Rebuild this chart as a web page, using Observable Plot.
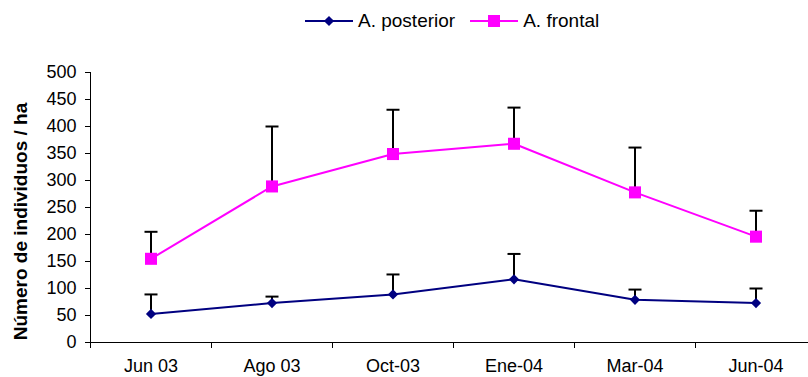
<!DOCTYPE html>
<html>
<head>
<meta charset="utf-8">
<script src="https://cdn.jsdelivr.net/npm/d3@7"></script>
<script src="https://cdn.jsdelivr.net/npm/@observablehq/plot@0.6"></script>
<style>
  html, body { margin: 0; padding: 0; background: #fff; overflow: hidden; }
  body { width: 808px; height: 377px; position: relative; font-family: "Liberation Sans", Arial, sans-serif; }
  #legend { position: absolute; left: 305px; top: 6px; height: 30px; display: flex; align-items: center; font-size: 19px; color: #000; }
  #legend .item { display: flex; align-items: center; margin-right: 15px; }
  #legend svg { margin-right: 5px; }
  #chart { position: absolute; left: 0; top: 45px; }
</style>
</head>
<body>
<div id="legend"></div>
<div id="chart"></div>
<script>
const months = ["Jun 03", "Ago 03", "Oct-03", "Ene-04", "Mar-04", "Jun-04"];
const posterior = [53, 73, 89, 117, 79, 73];
const posteriorErr = [36, 12, 37, 47, 19, 27];
const frontal = [155, 289, 349, 368, 278, 196];
const frontalErr = [50, 111, 82, 67, 83, 48];
const seriesNames = ["A. posterior", "A. frontal"];
const yTicks = d3.range(0, 501, 50);
const yTitle = "Número de individuos / ha";

const colors = {"A. posterior": "#000080", "A. frontal": "#FF00FF"};
const symbols = {"A. posterior": "diamond2", "A. frontal": "square"};

const rows = [];
months.forEach((m, i) => {
  rows.push({series: "A. posterior", i, x: i + 0.5, v: posterior[i], hi: posterior[i] + posteriorErr[i]});
  rows.push({series: "A. frontal", i, x: i + 0.5, v: frontal[i], hi: frontal[i] + frontalErr[i]});
});

const capSymbol = {draw(ctx) { ctx.moveTo(-6.5, 0); ctx.lineTo(6.5, 0); }};

const font = "Liberation Sans, Arial, sans-serif";

const chart = Plot.plot({
  width: 808,
  height: 332,
  marginLeft: 90,
  marginRight: -8,
  marginTop: 27,
  marginBottom: 35,
  style: {fontFamily: font, fontSize: "18px", color: "#000", background: "#fff"},
  x: {domain: [0, months.length], axis: null},
  y: {domain: [0, 500], axis: null},
  marks: [
    Plot.axisY({ticks: yTicks, tickSize: 5, tickPadding: 9, fontSize: 18, label: null, stroke: "#000"}),
    Plot.text([yTitle], {frameAnchor: "left", text: d => d, textAnchor: "middle", rotate: -90, dx: -70, dy: 14, fontSize: 19, fontWeight: "bold", fill: "#000"}),
    Plot.frame({anchor: "left", stroke: "#000"}),
    Plot.frame({anchor: "bottom", stroke: "#000"}),
    Plot.axisX({ticks: d3.range(0, months.length + 1), tickSize: 6, tickFormat: () => "", label: null, stroke: "#000"}),
    Plot.axisX({ticks: months.map((m, i) => i + 0.5), tickSize: 0, tickPadding: 17, tickFormat: d => months[Math.round(d - 0.5)], fontSize: 18, label: null}),
    Plot.link(rows, {x1: "x", x2: "x", y1: "v", y2: "hi", stroke: "#000", strokeWidth: 2}),
    Plot.dot(rows, {x: "x", y: "hi", symbol: capSymbol, stroke: "#000", strokeWidth: 2, fill: "none", r: 7}),
    Plot.line(rows, {x: "x", y: "v", z: "series", stroke: d => colors[d.series], strokeWidth: 2}),
    Plot.dot(rows.filter(d => d.series === "A. frontal"), {x: "x", y: "v", symbol: "square", fill: colors["A. frontal"], r: 6.8}),
    Plot.dot(rows.filter(d => d.series === "A. posterior"), {x: "x", y: "v", symbol: "diamond2", fill: colors["A. posterior"], r: 4.6})
  ]
});
document.getElementById("chart").appendChild(chart);

// legend
const legend = d3.select("#legend");
seriesNames.forEach(name => {
  const item = legend.append("div").attr("class", "item");
  const svg = item.append("svg").attr("width", 48).attr("height", 20);
  svg.append("line").attr("x1", 0).attr("x2", 48).attr("y1", 10).attr("y2", 10)
    .attr("stroke", colors[name]).attr("stroke-width", 2);
  const sym = d3.symbol().type(symbols[name] === "square" ? d3.symbolSquare : d3.symbolDiamond2)
    .size(symbols[name] === "square" ? 144 : 66);
  svg.append("path").attr("d", sym()).attr("transform", "translate(24,10)").attr("fill", colors[name]);
  item.append("span").text(name);
});
</script>
</body>
</html>
